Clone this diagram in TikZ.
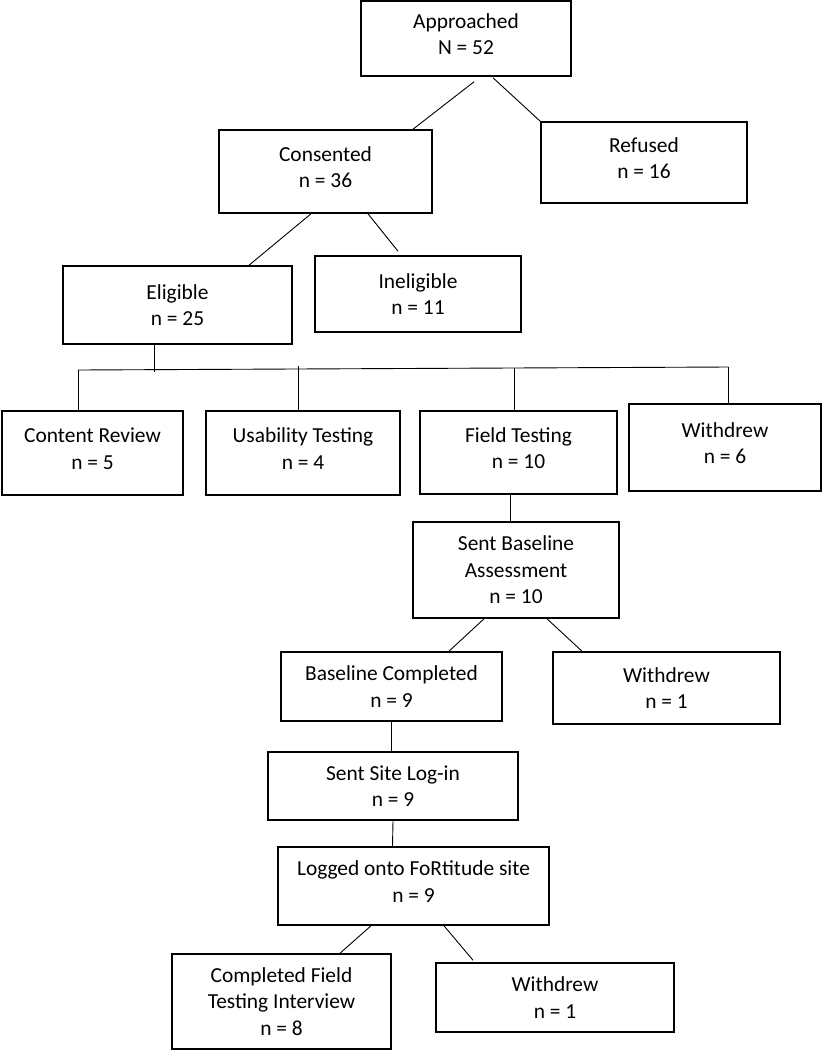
\documentclass[tikz,border=0pt]{standalone}
\usepackage{fontspec}
\setmainfont{Carlito}
\usetikzlibrary{calc}
\begin{document}
\begin{tikzpicture}[x=1pt,y=-1pt,
  box/.style={draw=black,line width=1.6pt,align=center,inner sep=0pt,
    font=\fontsize{21.4}{26.5}\selectfont},
  raised/.style={execute at end node={\rule[-9pt]{0pt}{1pt}}},
  conn/.style={draw=black,line width=0.9pt}]
\useasboundingbox (0,0) rectangle (823,1050);
% boxes
\node[box,raised,minimum width=210pt,minimum height=75pt] (appr) at (466,38.5) {Approached\\N = 52};
\node[box,raised,minimum width=213pt,minimum height=83pt] (cons) at (325.5,171.5) {Consented\\n = 36};
\node[box,raised,minimum width=206pt,minimum height=81pt] (ref) at (644,162.5) {Refused\\n = 16};
\node[box,minimum width=229pt,minimum height=78pt] (elig) at (177.5,305) {Eligible\\n = 25};
\node[box,minimum width=206pt,minimum height=76pt] (inel) at (418,294) {Ineligible\\n = 11};
\node[box,raised,minimum width=181pt,minimum height=84pt] (cont) at (92.5,453) {Content Review\\n = 5};
\node[box,raised,minimum width=194pt,minimum height=84pt] (usab) at (303,453) {Usability Testing\\n = 4};
\node[box,raised,minimum width=197pt,minimum height=83pt] (field) at (518.5,452.5) {Field Testing\\n = 10};
\node[box,raised,minimum width=192pt,minimum height=87pt] (wda) at (725,447.5) {Withdrew\\n = 6};
\node[box,minimum width=206pt,minimum height=96pt] (sba) at (516,570) {Sent Baseline\\Assessment\\n = 10};
\node[box,minimum width=221pt,minimum height=69pt] (bcomp) at (391.5,686.5) {Baseline Completed\\n = 9};
\node[box,minimum width=227pt,minimum height=72pt] (wdb) at (666.5,688) {Withdrew\\n = 1};
\node[box,minimum width=250pt,minimum height=68pt] (ssl) at (393,786) {Sent Site Log-in\\n = 9};
\node[box,raised,minimum width=271pt,minimum height=78pt] (logd) at (413.5,886) {Logged onto FoRtitude site\\n = 9};
\node[box,minimum width=219pt,minimum height=95pt] (cfti) at (281.5,1001.5) {Completed Field\\Testing Interview\\n = 8};
\node[box,minimum width=238pt,minimum height=69pt] (wdc) at (555,997.5) {Withdrew\\n = 1};
% bus coordinates
\coordinate (busL) at (78,370);
\coordinate (busR) at (728.5,367);
\coordinate (busE) at (154,372);
% connectors
\draw[conn] ($(appr.south)+(8,5)$) -- ($(cons.north)+(87.5,0)$);
\draw[conn] ($(appr.south)+(27,1)$) -- (ref.north west);
\draw[conn] ($(cons.south)+(-14.5,0)$) -- ($(elig.north)+(71.5,0)$);
\draw[conn] ($(cons.south)+(42.5,0)$) -- ($(inel.north)+(-20,-4)$);
\draw[conn] ($(elig.south)+(-23.5,0)$) -- (busE);
\draw[conn] (busL) -- (busR);
\draw[conn] (busL) -- (cont.north -| busL);
\draw[conn] ($(usab.north)+(-5,-44)$) -- ($(usab.north)+(-5,0)$);
\draw[conn] ($(field.north)+(-4.5,-42)$) -- ($(field.north)+(-4.5,0)$);
\draw[conn] (busR) -- (wda.north -| busR);
\draw[conn] ($(field.south)+(-8.5,0)$) -- ($(sba.north)+(-6,0)$);
\draw[conn] ($(sba.south)+(-32,0)$) -- ($(bcomp.north)+(57.5,0)$);
\draw[conn] ($(sba.south)+(31,0)$) -- ($(wdb.north)+(-84.5,0)$);
\draw[conn] (bcomp.south) -- (bcomp.south |- ssl.north);
\draw[conn] (ssl.south) -- ($(logd.north)+(-21,0)$);
\draw[conn] ($(logd.south)+(-42.5,0)$) -- ($(cfti.north)+(58.5,0)$);
\draw[conn] ($(logd.south)+(30.5,0)$) -- ($(wdc.north)+(-82,-2)$);
\end{tikzpicture}
\end{document}
